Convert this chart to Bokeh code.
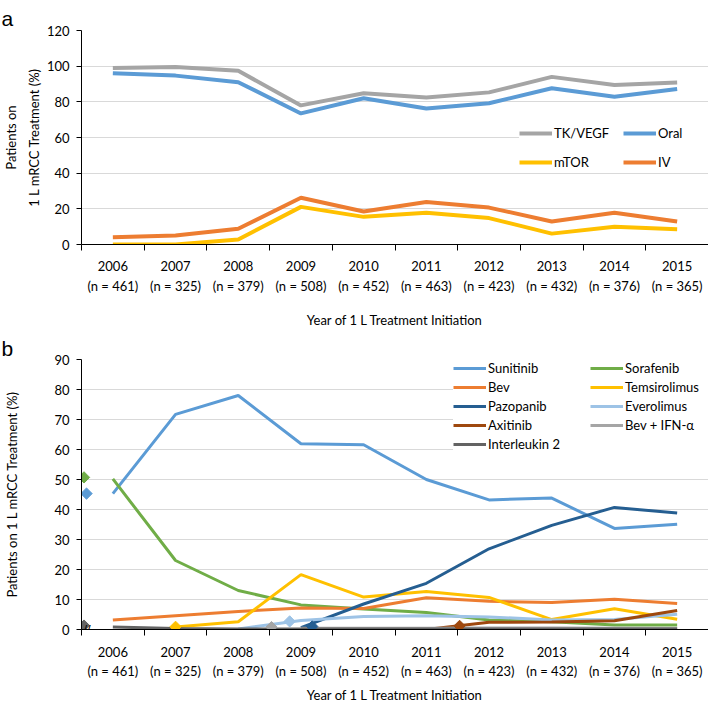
from bokeh.plotting import figure
from bokeh.models import Range1d, FixedTicker, Legend, LegendItem, Label, ColumnDataSource
from bokeh.layouts import column
from bokeh.embed import file_html
from bokeh.resources import INLINE

nan = float("nan")

years = ["2006", "2007", "2008", "2009", "2010", "2011", "2012", "2013", "2014", "2015"]
n_counts = [461, 325, 379, 508, 452, 463, 423, 432, 376, 365]
x_pos = list(range(len(years)))

# Panel a
tk_vegf = [99.0, 99.6, 97.4, 78.0, 84.8, 82.4, 85.3, 94.0, 89.5, 90.8]
oral = [96.0, 94.7, 91.0, 73.5, 82.0, 76.3, 79.2, 87.6, 82.8, 87.2]
mtor = [0.0, 0.0, 2.8, 21.1, 15.5, 17.8, 14.8, 6.1, 9.9, 8.6]
iv = [4.1, 5.0, 8.8, 26.2, 18.5, 23.8, 20.7, 12.9, 17.8, 12.9]

# Panel b
sunitinib = [45.3, 71.7, 78.0, 61.9, 61.6, 50.0, 43.2, 43.8, 33.7, 35.1]
sorafenib = [50.2, 23.0, 13.0, 8.2, 6.8, 5.7, 3.2, 2.6, 1.5, 1.5]
bev = [3.2, 4.6, 6.0, 7.2, 7.0, 10.6, 9.4, 9.0, 10.1, 8.7]
temsirolimus = [nan, 0.8, 2.6, 18.3, 10.8, 12.7, 10.7, 3.3, 6.9, 3.4]
pazopanib = [nan, nan, nan, 0.6, 8.5, 15.4, 26.9, 34.7, 40.7, 38.8]
everolimus = [nan, nan, 0.2, 3.0, 4.3, 4.6, 4.2, 3.2, 3.3, 5.1]
axitinib = [nan, nan, nan, nan, nan, 0.0, 2.4, 2.5, 2.9, 6.3]
bev_ifn = [nan, nan, nan, 0.4, 0.4, 0.4, 0.5, 0.5, 0.4, 0.3]
il2 = [0.8, 0.3, 0.2, 0.2, 0.2, 0.2, 0.2, 0.2, 0.2, 0.2]

# approval markers (diamonds)
marker_x = [-0.46, -0.46, -0.42, 1.0, 2.53, 2.82, 3.18, 5.53]
marker_y = [1.3, 50.7, 45.3, 0.9, 0.8, 2.7, 1.0, 1.2]
marker_series = ["Interleukin 2", "Sorafenib", "Sunitinib", "Temsirolimus",
                 "Bev + IFN-α", "Everolimus", "Pazopanib", "Axitinib"]

colors = {
    "TK/VEGF": "#A5A5A5", "Oral": "#5B9BD5", "mTOR": "#FFC000", "IV": "#ED7D31",
    "Sunitinib": "#5B9BD5", "Sorafenib": "#70AD47", "Bev": "#ED7D31",
    "Temsirolimus": "#FFC000", "Pazopanib": "#255E91", "Everolimus": "#9DC3E6",
    "Axitinib": "#9E480E", "Bev + IFN-α": "#A5A5A5", "Interleukin 2": "#636363",
}

FONT = "Lato"


def style(p, panel, title_standoff, yticks, ylabel, ylabel_standoff, ylabel_lh,
          xlabel_standoff, xlabel_lh, xtick_standoff):
    p.title.text = panel
    p.title.text_font = "Liberation Sans"
    p.title.text_font_size = "21px"
    p.title.text_font_style = "normal"
    p.title.text_color = "black"
    p.title.align = "left"
    p.title.offset = -80
    p.title.standoff = title_standoff

    p.outline_line_color = None
    p.background_fill_color = "white"
    p.border_fill_color = "white"
    p.xgrid.visible = False
    p.ygrid.grid_line_color = "#D9D9D9"
    p.ygrid.grid_line_width = 1
    p.ygrid.ticker = FixedTicker(ticks=yticks)

    xa = p.xaxis[0]
    xa.ticker = FixedTicker(ticks=x_pos, minor_ticks=[i - 0.5 for i in range(len(years) + 1)])
    xa.major_label_overrides = {i: f"{years[i]}\n(n = {n_counts[i]})" for i in x_pos}
    xa.major_tick_out = 0
    xa.major_tick_in = 0
    xa.minor_tick_out = 6
    xa.minor_tick_in = 0
    xa.minor_tick_line_color = "black"
    xa.axis_line_color = "black"
    xa.major_label_text_font = FONT
    xa.major_label_text_font_size = "13px"
    xa.major_label_text_color = "black"
    xa.major_label_text_line_height = xlabel_lh
    xa.major_label_standoff = xtick_standoff
    xa.axis_label = "Year of 1 L Treatment Initiation"
    xa.axis_label_text_font = FONT
    xa.axis_label_text_font_size = "13px"
    xa.axis_label_text_font_style = "normal"
    xa.axis_label_text_color = "black"
    xa.axis_label_standoff = xlabel_standoff

    ya = p.yaxis[0]
    ya.ticker = FixedTicker(ticks=yticks)
    ya.minor_tick_line_color = None
    ya.major_tick_out = 5
    ya.major_tick_in = 0
    ya.major_tick_line_color = "black"
    ya.axis_line_color = "black"
    ya.major_label_standoff = 7
    ya.major_label_text_font = FONT
    ya.major_label_text_font_size = "13px"
    ya.major_label_text_color = "black"
    ya.axis_label = ylabel
    ya.axis_label_text_font = FONT
    ya.axis_label_text_font_size = "13px"
    ya.axis_label_text_font_style = "normal"
    ya.axis_label_text_color = "black"
    ya.axis_label_text_line_height = ylabel_lh
    ya.axis_label_standoff = ylabel_standoff


# ---------------- Panel a ----------------
p1 = figure(width=708, height=332, x_range=Range1d(-0.5, 9.5), y_range=Range1d(0, 120),
            output_backend="svg", toolbar_location=None,
            min_border_left=80, min_border_right=0, min_border_top=30, min_border_bottom=88)
style(p1, "a", 2, list(range(0, 121, 20)), "Patients on\n1 L mRCC Treatment (%)", 2, 1.4,
      15, 1.25, 7)

src_a = ColumnDataSource(dict(x=x_pos, tk=tk_vegf, oral=oral, mtor=mtor, iv=iv))
r_iv = p1.line("x", "iv", source=src_a, line_color=colors["IV"], line_width=4)
r_mtor = p1.line("x", "mtor", source=src_a, line_color=colors["mTOR"], line_width=4)
r_tk = p1.line("x", "tk", source=src_a, line_color=colors["TK/VEGF"], line_width=4)
r_oral = p1.line("x", "oral", source=src_a, line_color=colors["Oral"], line_width=4)

leg_a = Legend(items=[LegendItem(label="TK/VEGF", renderers=[r_tk]),
                      LegendItem(label="Oral", renderers=[r_oral]),
                      LegendItem(label="mTOR", renderers=[r_mtor]),
                      LegendItem(label="IV", renderers=[r_iv])],
               orientation="horizontal", ncols=2, location=(438, 72),
               glyph_width=33, glyph_height=20, label_standoff=2, label_width=60,
               spacing=9, padding=5, margin=0,
               background_fill_color="white", background_fill_alpha=1.0,
               border_line_color=None,
               label_text_font=FONT, label_text_font_size="13px", label_text_color="black")
p1.add_layout(leg_a)

# ---------------- Panel b ----------------
p2 = figure(width=708, height=375, x_range=Range1d(-0.5, 9.5), y_range=Range1d(0, 90),
            output_backend="svg", toolbar_location=None,
            min_border_left=80, min_border_right=0, min_border_top=27, min_border_bottom=78)
style(p2, "b", 0, list(range(0, 91, 10)), "Patients on 1 L mRCC Treatment (%)", 31, 1.2,
      5, 1.22, 8)

series_b = [("Sunitinib", sunitinib), ("Sorafenib", sorafenib), ("Bev", bev),
            ("Temsirolimus", temsirolimus), ("Pazopanib", pazopanib),
            ("Everolimus", everolimus), ("Axitinib", axitinib),
            ("Bev + IFN-α", bev_ifn), ("Interleukin 2", il2)]
items_b = []
for name, vals in series_b:
    src = ColumnDataSource(dict(x=x_pos, y=vals))
    r = p2.line("x", "y", source=src, line_color=colors[name], line_width=3)
    items_b.append(LegendItem(label=name, renderers=[r]))

src_m = ColumnDataSource(dict(x=marker_x, y=marker_y,
                              c=[colors[s] for s in marker_series]))
p2.scatter("x", "y", source=src_m, marker="square", angle=0.7854, size=8,
           fill_color="c", line_color="c")

leg_b = Legend(items=items_b, orientation="horizontal", ncols=2, location=(372, 177),
               glyph_width=33, glyph_height=16, label_standoff=2, label_width=99,
               spacing=3, padding=0, margin=0,
               background_fill_color="white", background_fill_alpha=1.0,
               border_line_color=None,
               label_text_font=FONT, label_text_font_size="13px", label_text_color="black")
p2.add_layout(leg_b)
p2.add_layout(Label(x=-0.47, y=0, text="//",
                    text_font="Liberation Sans", text_font_size="13px",
                    text_baseline="middle", text_align="left", text_color="black"))

layout = column(p1, p2, spacing=0)
open("out.html", "w").write(file_html(layout, INLINE))
